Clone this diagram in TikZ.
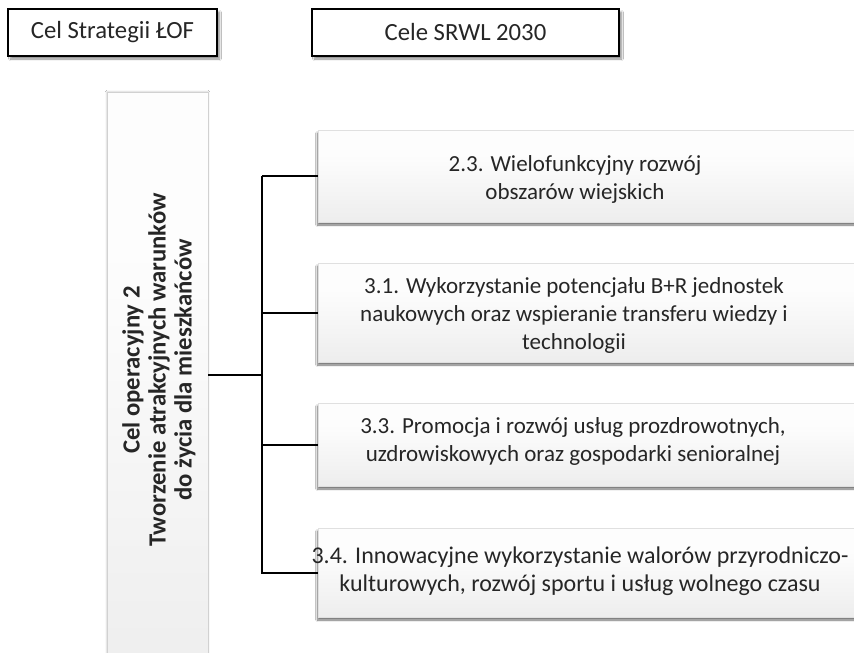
\documentclass[tikz,border=0pt]{standalone}
\usepackage{fontspec}
\setmainfont{Carlito}
\usetikzlibrary{shadows.blur}
\pgfdeclareverticalshading{goalshade}{100bp}{color(0bp)=(black!13); color(25bp)=(black!7); color(60bp)=(black!1); color(100bp)=(white)}
\begin{document}
\begin{tikzpicture}[x=1pt,y=-1pt,
  topbox/.style={draw=black, line width=1.8pt, fill=white, minimum height=47pt, inner sep=0pt,
    font=\fontsize{24.7}{28}\selectfont, text=black!85,
    blur shadow={shadow xshift=2.5pt, shadow yshift=-3pt, shadow blur steps=6, shadow opacity=45}},
  opbox/.style={draw=black!18, line width=0.6pt, shading=goalshade,
    minimum width=101pt, minimum height=600pt, inner sep=0pt,
    blur shadow={shadow xshift=0pt, shadow yshift=0pt, shadow blur steps=4, shadow opacity=25}},
  goalbox/.style={draw=black!12, line width=0.6pt, shading=goalshade,
    minimum width=562pt, inner sep=0pt,
    blur shadow={shadow xshift=-0.5pt, shadow yshift=-3pt, shadow blur steps=5, shadow opacity=55}},
  goaltext/.style={align=center, font=\fontsize{23}{28}\selectfont, text=black!85, inner sep=0pt},
  optext/.style={rotate=90, align=center, font=\bfseries\fontsize{24.7}{26}\selectfont, text=black!85, inner sep=0pt},
  link/.style={line width=2pt, black}]
\clip (0,0) rectangle (854,653);
\fill[white] (0,0) rectangle (854,653);

\node[topbox, minimum width=209pt] (s1) at (112.5,32.5) {Cel Strategii ŁOF};
\node[topbox, minimum width=307pt] (s2) at (465.5,32.5) {Cele SRWL 2030};

\node[opbox] (op) at (157.5,392) {};
\node[optext] (opt) at (159,370) {Cel operacyjny 2\\Tworzenie atrakcyjnych warunków\\do życia dla mieszkańców};

\node[goalbox, minimum height=92pt] (r1) at (599,176) {};
\node[goalbox, minimum height=99pt] (r2) at (599,312.5) {};
\node[goalbox, minimum height=83pt] (r3) at (599,444.5) {};
\node[goalbox, minimum height=89pt] (r4) at (599,572.5) {};

\node[goaltext] (t1) at (575,179) {2.3. Wielofunkcyjny rozwój\\obszarów wiejskich};
\node[goaltext] (t2) at (574,315) {3.1. Wykorzystanie potencjału B+R jednostek\\naukowych oraz wspieranie transferu wiedzy i\\technologii};
\node[goaltext] (t3) at (573,441) {3.3. Promocja i rozwój usług prozdrowotnych,\\uzdrowiskowych oraz gospodarki senioralnej};
\node[goaltext, font=\fontsize{24}{28}\selectfont] (t4) at (580,571) {3.4. Innowacyjne wykorzystanie walorów przyrodniczo-\\kulturowych, rozwój sportu i usług wolnego czasu};

\coordinate (j) at (262,375);
\draw[link] (op.east |- j) -- (j);
\draw[link] (j |- r1.west) -- (r1.west);
\draw[link] (j |- r1.west) -- (j |- r4.west) -- (r4.west);
\draw[link] (j |- r2.west) -- (r2.west);
\draw[link] (j |- r3.west) -- (r3.west);
\end{tikzpicture}
\end{document}
